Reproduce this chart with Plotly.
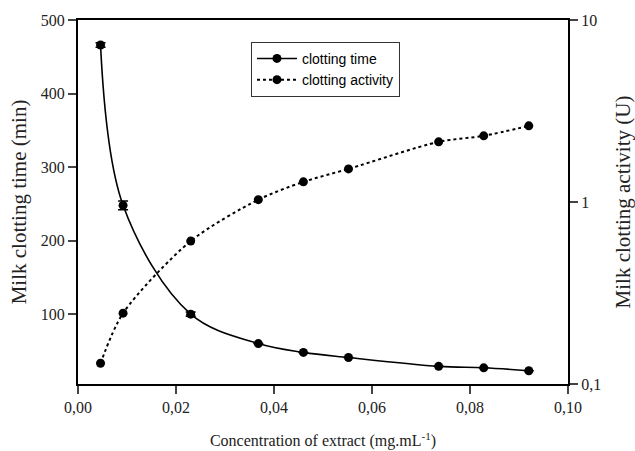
import plotly.graph_objects as go

conc = [0.0046, 0.0092, 0.023, 0.0368, 0.046, 0.0552, 0.0736, 0.0828, 0.092]
clot_time = [466, 248, 100, 60, 48, 41, 29, 27, 23]
clot_time_err = [3, 6, 3, 0, 0, 0, 0, 0, 0]
clot_activity = [0.13, 0.245, 0.61, 1.03, 1.29, 1.52, 2.14, 2.31, 2.62]

serif = "Liberation Serif, Times New Roman, serif"
sans = "Liberation Sans, Arial, sans-serif"

fig = go.Figure()
fig.add_trace(go.Scatter(
    x=conc, y=clot_time, name="clotting time", mode="lines+markers",
    line=dict(color="black", width=1.6, shape="spline", smoothing=1.0),
    marker=dict(color="black", size=9),
    error_y=dict(type="data", array=clot_time_err, color="black", thickness=1.5, width=5),
    yaxis="y",
))
fig.add_trace(go.Scatter(
    x=conc, y=clot_activity, name="clotting activity", mode="lines+markers",
    line=dict(color="black", width=2, dash="dot", shape="spline", smoothing=0.8),
    marker=dict(color="black", size=9),
    yaxis="y2",
))

fig.update_layout(
    width=635, height=451,
    margin=dict(l=78, r=67, t=20, b=67),
    paper_bgcolor="white", plot_bgcolor="white",
    separators=",.",
    showlegend=True,
    legend=dict(x=0.353, y=0.94, xanchor="left", yanchor="top",
                bordercolor="#333", borderwidth=1, bgcolor="white",
                font=dict(family=sans, size=14, color="black"),
                tracegroupgap=0, itemwidth=40),
    font=dict(family=serif, size=16, color="#222"),
    xaxis=dict(range=[0, 0.10], tickvals=[0, 0.02, 0.04, 0.06, 0.08, 0.10],
               tickformat=".2f", ticks="outside", ticklen=8, tickwidth=1.5,
               showline=True, linecolor="black", linewidth=2, mirror=True,
               showgrid=False, zeroline=False, automargin=False,
               title=dict(text="Concentration of extract (mg.mL<sup>-1</sup>)", standoff=20,
                          font=dict(family=serif, size=16, color="#222"))),
    yaxis=dict(range=[5, 500], tickvals=[100, 200, 300, 400, 500],
               ticks="outside", ticklen=8, tickwidth=1.5,
               showline=True, linecolor="black", linewidth=2,
               showgrid=False, zeroline=False, automargin=False,
               title=dict(text="Milk clotting time (min)", standoff=8,
                          font=dict(family=serif, size=21, color="#222"))),
    yaxis2=dict(type="log", range=[-1, 1], overlaying="y", side="right",
                tickvals=[0.1, 1, 10], ticktext=["0,1", "1", "10"],
                ticks="outside", ticklen=8, tickwidth=1.5,
                showline=True, linecolor="black", linewidth=2,
                showgrid=False, zeroline=False, automargin=False,
                title=dict(text="Milk clotting activity (U)", standoff=20,
                           font=dict(family=serif, size=21, color="#222"))),
)

fig.write_html("out.html")
